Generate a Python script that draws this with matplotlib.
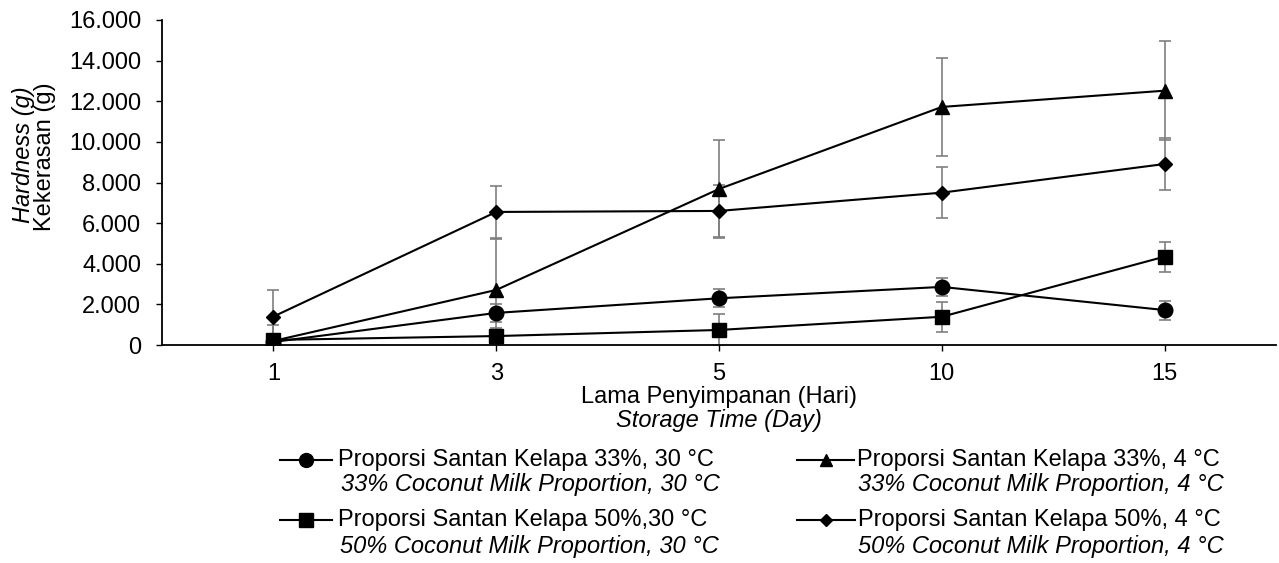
import matplotlib
matplotlib.use("Agg")
import matplotlib.pyplot as plt
from matplotlib.lines import Line2D
from matplotlib.ticker import FuncFormatter, MultipleLocator
import numpy as np

plt.rcParams['font.family'] = ['Liberation Sans', 'DejaVu Sans']

days = ["1", "3", "5", "10", "15"]
s33_30 = [150, 1580, 2300, 2860, 1720]
e33_30 = [100, 440, 440, 450, 470]
s50_30 = [250, 440, 740, 1390, 4350]
e50_30 = [150, 400, 770, 750, 740]
s33_4 = [200, 2710, 7680, 11720, 12520]
e33_4 = [800, 2500, 2400, 2400, 2450]
s50_4 = [1400, 6550, 6600, 7500, 8910]
e50_4 = [1290, 1280, 1300, 1270, 1265]

labels_id = ["Proporsi Santan Kelapa 33%, 30 °C", "Proporsi Santan Kelapa 50%,30 °C",
             "Proporsi Santan Kelapa 33%, 4 °C", "Proporsi Santan Kelapa 50%, 4 °C"]
labels_en = ["33% Coconut Milk Proportion, 30 °C", "50% Coconut Milk Proportion, 30 °C",
             "33% Coconut Milk Proportion, 4 °C", "50% Coconut Milk Proportion, 4 °C"]

W, H = 1279, 563
fig = plt.figure(figsize=(W / 100, H / 100), dpi=100)
ax = fig.add_axes([162 / W, 1 - 345 / H, (1276 - 162) / W, (345 - 20) / H])

x = np.arange(len(days))
series = [
    (s33_30, e33_30, 'o', 10.5),
    (s50_30, e50_30, 's', 10),
    (s33_4, e33_4, '^', 10.5),
    (s50_4, e50_4, 'D', 7),
]
for vals, errs, mk, ms in series:
    ax.errorbar(x, vals, yerr=errs, fmt='none', ecolor='#7f7f7f', elinewidth=1.2,
                capsize=4, capthick=1.2, zorder=2)
    ax.plot(x, vals, color='black', lw=1.5, marker=mk, ms=ms, mfc='black', mec='black', zorder=3)

fs = 17
ax.set_xlim(-0.5, len(days) - 0.5)
ax.set_ylim(0, 16000)
ax.set_xticks(x)
ax.set_xticklabels(days)
ax.yaxis.set_major_locator(MultipleLocator(2000))
ax.yaxis.set_major_formatter(FuncFormatter(lambda v, p: f"{int(round(v)):,}".replace(",", ".")))
for s in ['top', 'right']:
    ax.spines[s].set_visible(False)
for s in ['left', 'bottom']:
    ax.spines[s].set_linewidth(1.3)
ax.tick_params(axis='y', length=4, width=1, pad=11, labelsize=fs)
ax.tick_params(axis='x', length=4, width=1, pad=9, labelsize=fs)

fig.text(23.5 / W, 1 - 155 / H, "Hardness (g)", rotation=90, style='italic', fontsize=fs,
         ha='center', va='center')
fig.text(45 / W, 1 - 157 / H, "Kekerasan (g)", rotation=90, fontsize=fs, ha='center', va='center')
fig.text(719 / W, 1 - 397 / H, "Lama Penyimpanan (Hari)", fontsize=fs, ha='center', va='center')
fig.text(719 / W, 1 - 420 / H, "Storage Time (Day)", fontsize=fs, ha='center', va='center',
         style='italic')

# legend (manual layout)
leg = [
    (280, 332, 460, 338, 341, 484, 'o', 10),
    (280, 332, 520, 338, 340, 546, 's', 10),
    (797, 854, 460, 857, 858, 484, '^', 9),
    (797, 855, 520, 858, 858, 546, 'D', 6.5),
]
for i, (x0, x1, yy, tx, tx2, yy2, mk, ms) in enumerate(leg):
    xm = (x0 + x1) / 2
    fig.add_artist(Line2D([x0 / W, xm / W, x1 / W], [1 - yy / H] * 3, transform=fig.transFigure,
                          color='black', lw=1.5, marker=mk, ms=ms, markevery=[1],
                          mfc='black', mec='black'))
    fig.text(tx / W, 1 - yy / H, labels_id[i], fontsize=fs, ha='left', va='center')
    fig.text(tx2 / W, 1 - yy2 / H, labels_en[i], fontsize=fs, ha='left', va='center', style='italic')

fig.savefig("out.png", dpi=100)
